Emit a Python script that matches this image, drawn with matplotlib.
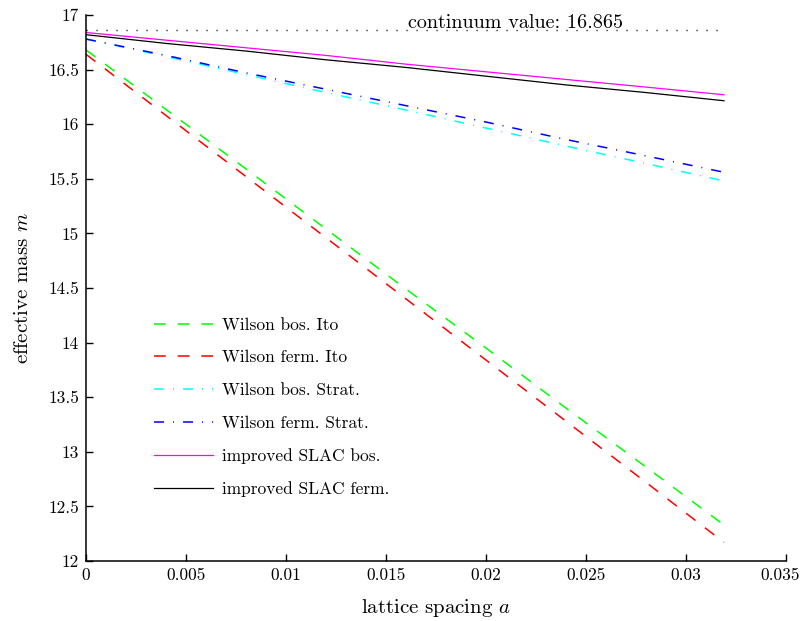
import matplotlib
matplotlib.use('Agg')
import matplotlib.pyplot as plt
import matplotlib.transforms as mtransforms
from matplotlib.ticker import FuncFormatter

plt.rcParams['font.family'] = ['cmr10', 'DejaVu Serif']
plt.rcParams['mathtext.fontset'] = 'cm'
plt.rcParams['axes.formatter.use_mathtext'] = True
plt.rcParams['lines.scale_dashes'] = False

# lattice spacing values
a = [0, 0.004, 0.008, 0.012, 0.016, 0.020, 0.024, 0.028, 0.0319]

# effective mass
wilson_bos_ito = [16.68, 16.135, 15.59, 15.04, 14.49, 13.95, 13.40, 12.86, 12.33]
wilson_ferm_ito = [16.64, 16.08, 15.52, 14.96, 14.40, 13.84, 13.28, 12.72, 12.17]
wilson_bos_strat = [16.78, 16.62, 16.455, 16.29, 16.13, 15.965, 15.80, 15.64, 15.48]
wilson_ferm_strat = [16.78, 16.63, 16.47, 16.32, 16.17, 16.02, 15.86, 15.71, 15.56]
slac_bos = [16.84, 16.77, 16.70, 16.63, 16.55, 16.48, 16.41, 16.34, 16.27]
slac_ferm = [16.82, 16.74, 16.67, 16.59, 16.52, 16.44, 16.36, 16.29, 16.215]

continuum = 16.865

fig = plt.figure(figsize=(8.04, 6.21), dpi=100)
ax = fig.add_axes([0.107, 0.0966, 0.8706, 0.8792])

dash = (0, (8.5, 8.5))
dashdot = (0, (7.2, 6.5, 0.7, 6.5))

ax.plot(a, wilson_bos_ito, color='#00ff00', lw=1.1, linestyle=dash, label='Wilson bos. Ito')
ax.plot(a, wilson_ferm_ito, color='#ff0000', lw=1.1, linestyle=dash, label='Wilson ferm. Ito')
ax.plot(a, wilson_bos_strat, color='#00ffff', lw=1.1, linestyle=dashdot, label='Wilson bos. Strat.')
ax.plot(a, wilson_ferm_strat, color='#0000ff', lw=1.1, linestyle=dashdot, label='Wilson ferm. Strat.')
ax.plot(a, slac_bos, color='#ff00ff', lw=0.9, label='improved SLAC bos.')
ax.plot(a, slac_ferm, color='black', lw=0.9, label='improved SLAC ferm.')

# continuum line
ax.plot([0, a[-1]], [continuum, continuum], color='black', lw=1.0,
        linestyle=(0, (0.8, 6.4)))
ax.text(0.02145, 16.878, 'continuum value: %.3f' % continuum, ha='center',
        va='baseline', fontsize=14.5)

ax.set_xlim(0, 0.035)
ax.set_ylim(12, 17)
ax.set_xticks([0, 0.005, 0.01, 0.015, 0.02, 0.025, 0.03, 0.035])
ax.set_yticks([12, 12.5, 13, 13.5, 14, 14.5, 15, 15.5, 16, 16.5, 17])
fmt = FuncFormatter(lambda v, p: '%g' % v)
ax.xaxis.set_major_formatter(fmt)
ax.yaxis.set_major_formatter(fmt)
ax.tick_params(direction='in', length=5, width=1, labelsize=12.5, pad=5)

# nudge the last x tick label so it stays inside the figure
last = ax.get_xticklabels()[-1]
last.set_transform(last.get_transform() +
                   mtransforms.ScaledTranslation(-4 / 72, 0, fig.dpi_scale_trans))

for s in ['top', 'right']:
    ax.spines[s].set_visible(False)
for s in ['left', 'bottom']:
    ax.spines[s].set_linewidth(1.1)

ax.set_xlabel('lattice spacing $a$', fontsize=15, labelpad=10)
ax.set_ylabel('effective mass $m$', fontsize=15, labelpad=12)

ax.legend(loc='upper left', bbox_to_anchor=(0.075, 0.475), frameon=False,
          fontsize=12.5, handlelength=3.4, labelspacing=1.0, handletextpad=0.5)

fig.savefig('out.png', dpi=100)
